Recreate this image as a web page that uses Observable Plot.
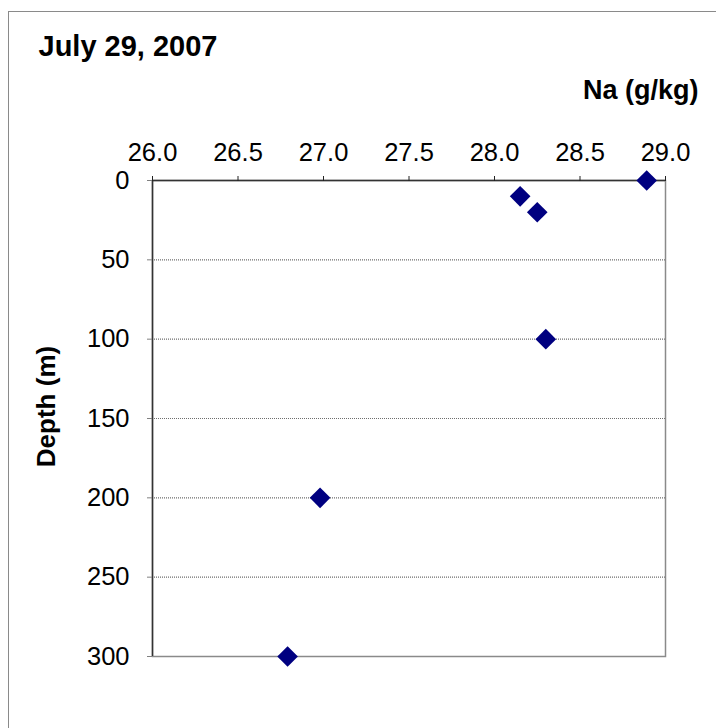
<!DOCTYPE html>
<html><head><meta charset="utf-8">
<script src="https://cdn.jsdelivr.net/npm/d3@7"></script>
<script src="https://cdn.jsdelivr.net/npm/@observablehq/plot@0.6"></script>
<style>
body{margin:0;background:#fff}
svg{font-family:"Liberation Sans",Arial,sans-serif}
</style>
</head><body><div id="chart"></div>
<script>
const titleText = "July 29, 2007";
const xLabelText = "Na (g/kg)";
const yLabelText = "Depth (m)";
const sodium = [28.89, 28.15, 28.25, 28.30, 26.98, 26.79];
const depth = [0, 10, 20, 100, 200, 300];
const xTicks = [26.0, 26.5, 27.0, 27.5, 28.0, 28.5, 29.0];
const yTicks = [0, 50, 100, 150, 200, 250, 300];
const gridDepths = [50, 100, 150, 200, 250];

const data = sodium.map((v, i) => ({na: v, depth: depth[i]}));

const plot = Plot.plot({
  width: 716,
  height: 728,
  marginLeft: 152,
  marginRight: 51,
  marginTop: 180,
  marginBottom: 72,
  style: {fontFamily: "'Liberation Sans', Arial, sans-serif", color: "#000", background: "#fff", overflow: "visible"},
  x: {domain: [26, 29]},
  y: {domain: [0, 300], reverse: true},
  marks: [
    Plot.ruleY(gridDepths, {stroke: "#6e6e6e", strokeDasharray: "1,1", strokeWidth: 1.2}),
    Plot.frame({stroke: "#8a8a8a", strokeWidth: 1.5}),
    Plot.ruleY([0], {stroke: "#333", strokeWidth: 1.5}),
    Plot.ruleX([26], {stroke: "#333", strokeWidth: 1.5}),
    Plot.axisX(xTicks, {anchor: "top", tickFormat: d3.format(".1f"), tickSize: 5, tickPadding: 15, fontSize: 25.5, stroke: "#222", fill: "#000", label: null}),
    Plot.axisY(yTicks, {anchor: "left", tickSize: 5, tickPadding: 18, fontSize: 25.5, stroke: "#808080", fill: "#000", label: null}),
    Plot.dot(data, {x: "na", y: "depth", symbol: "diamond2", r: 9.3, fill: "#000080", stroke: "none"}),
    Plot.text([titleText], {frameAnchor: "top-left", textAnchor: "start", lineAnchor: "middle", dx: -114, dy: -134, fontSize: 29, fontWeight: "bold", fill: "#000"}),
    Plot.text([xLabelText], {frameAnchor: "top-right", textAnchor: "end", lineAnchor: "middle", dx: 33, dy: -90, fontSize: 27, fontWeight: "bold", fill: "#000"}),
    Plot.text([yLabelText], {frameAnchor: "left", textAnchor: "middle", lineAnchor: "middle", rotate: -90, dx: -106, dy: -12, fontSize: 26, fontWeight: "bold", fill: "#000"})
  ]
});

d3.select(plot).insert("rect", ":first-child")
  .attr("x", 8.5).attr("y", 11.5).attr("width", 760).attr("height", 760)
  .attr("fill", "none").attr("stroke", "#8a8a8a").attr("stroke-width", 1);

document.getElementById("chart").appendChild(plot);
</script>
</body></html>
